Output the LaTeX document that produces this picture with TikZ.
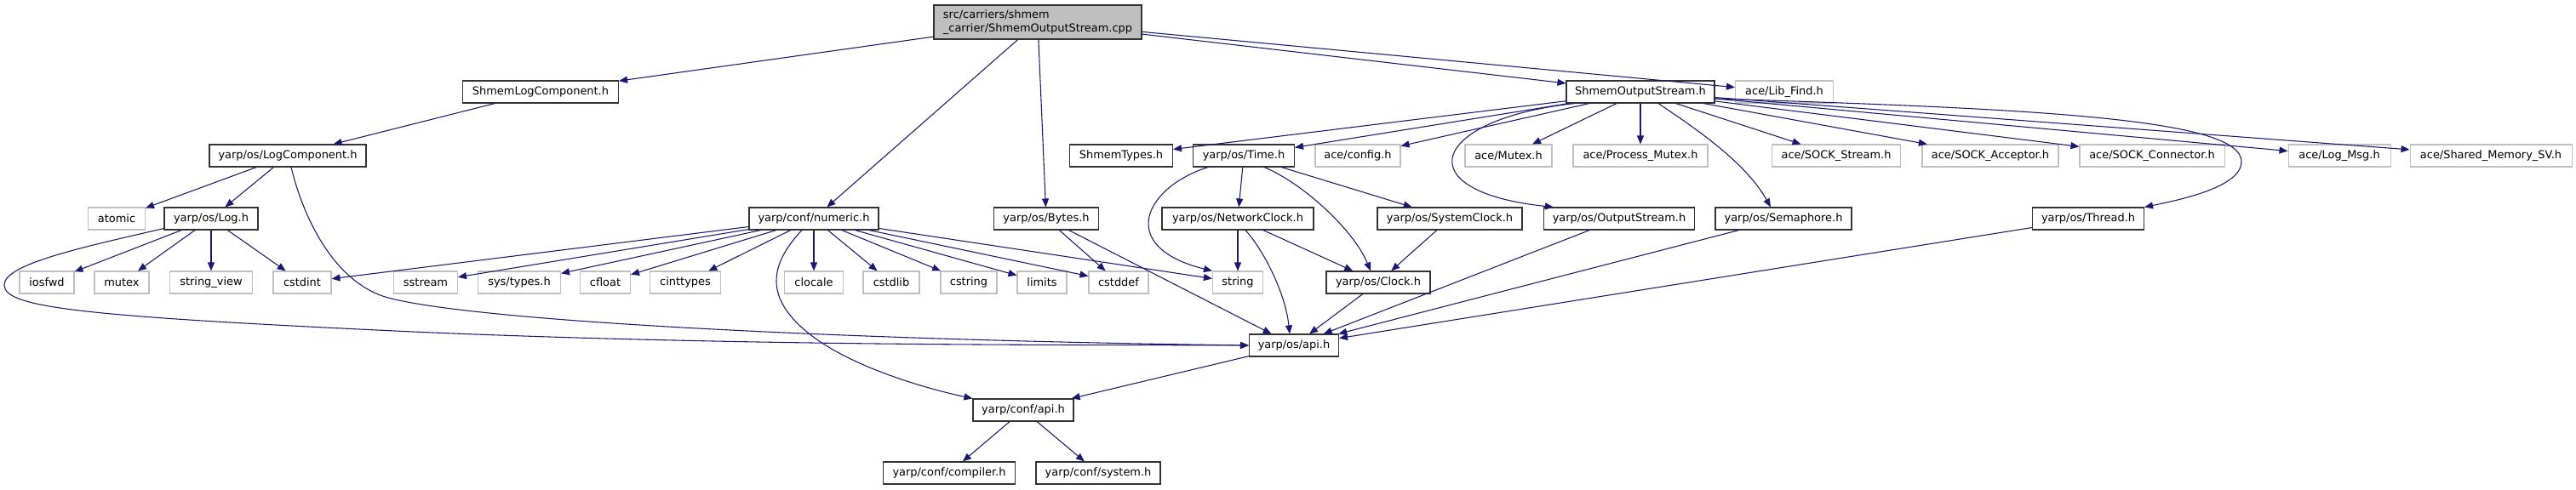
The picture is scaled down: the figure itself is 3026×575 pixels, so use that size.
\documentclass[tikz,border=0pt]{standalone}
\usepackage{fontspec}
\setmainfont{DejaVu Sans}
\usetikzlibrary{arrows.meta, calc}
\definecolor{edgeblue}{HTML}{191970}
\definecolor{sysgray}{HTML}{BFBFBF}
\tikzset{
  hdr/.style={draw=black!80, fill=white, line width=0.8pt, minimum height=19.5pt,
      inner sep=2pt, font=\fontsize{9.7}{11.5}\selectfont},
  syshdr/.style={hdr, draw=sysgray},
  srcfile/.style={hdr, fill=sysgray, align=left, minimum height=30pt},
  bw/.style={minimum width=#1*0.75pt},
  incl/.style={draw=edgeblue, line width=0.8pt, -{Triangle[length=7.5pt,width=6pt]}},
}
\begin{document}
\begin{tikzpicture}[x=0.75pt, y=-0.75pt]
  \useasboundingbox (0,0) rectangle (3026,575);
  % rows of headers
  \node[srcfile, bw=244] (root) at (1219,26) {src/carriers/shmem\\\_carrier/ShmemOutputStream.cpp};

  \node[hdr, bw=183] (shmemlog) at (635,108) {ShmemLogComponent.h};
  \node[hdr, bw=174] (shmemout) at (1927,108) {ShmemOutputStream.h};
  \node[syshdr, bw=115] (libfind) at (2096,108) {ace/Lib\_Find.h};

  \node[hdr, bw=184] (logcomp) at (338,183) {yarp/os/LogComponent.h};
  \node[hdr, bw=121] (shmemtypes) at (1317,183) {ShmemTypes.h};
  \node[hdr, bw=119] (time) at (1461,183) {yarp/os/Time.h};
  \node[syshdr, bw=100] (aceconfig) at (1595,183) {ace/config.h};
  \node[syshdr, bw=102] (acemutex) at (1772,183) {ace/Mutex.h};
  \node[syshdr, bw=158] (procmutex) at (1927,183) {ace/Process\_Mutex.h};
  \node[syshdr, bw=151] (sockstream) at (2157,183) {ace/SOCK\_Stream.h};
  \node[syshdr, bw=160] (sockacc) at (2338,183) {ace/SOCK\_Acceptor.h};
  \node[syshdr, bw=170] (sockconn) at (2528,183) {ace/SOCK\_Connector.h};
  \node[syshdr, bw=120] (logmsg) at (2748,183) {ace/Log\_Msg.h};
  \node[syshdr, bw=190] (sharedmem) at (2926,183) {ace/Shared\_Memory\_SV.h};

  \node[syshdr, bw=67] (atomic) at (137,257) {atomic};
  \node[hdr, bw=110] (log) at (248,257) {yarp/os/Log.h};
  \node[hdr, bw=152] (numeric) at (956,257) {yarp/conf/numeric.h};
  \node[hdr, bw=123] (bytes) at (1229,257) {yarp/os/Bytes.h};
  \node[hdr, bw=178] (netclock) at (1454,257) {yarp/os/NetworkClock.h};
  \node[hdr, bw=170] (sysclock) at (1703,257) {yarp/os/SystemClock.h};
  \node[hdr, bw=177] (outstream) at (1902,257) {yarp/os/OutputStream.h};
  \node[hdr, bw=160] (semaphore) at (2095,257) {yarp/os/Semaphore.h};
  \node[hdr, bw=131] (thread) at (2453,257) {yarp/os/Thread.h};

  \node[syshdr, bw=64] (iosfwd) at (55,332) {iosfwd};
  \node[syshdr, bw=64] (mutex) at (143,332) {mutex};
  \node[syshdr, bw=97] (stringview) at (248,332) {string\_view};
  \node[syshdr, bw=68] (cstdint) at (355,332) {cstdint};
  \node[syshdr, bw=75] (sstream) at (500,332) {sstream};
  \node[syshdr, bw=97] (systypes) at (610,332) {sys/types.h};
  \node[syshdr, bw=59] (cfloat) at (711,332) {cfloat};
  \node[syshdr, bw=83] (cinttypes) at (805,332) {cinttypes};
  \node[syshdr, bw=69] (clocale) at (956,332) {clocale};
  \node[syshdr, bw=66] (cstdlib) at (1047,332) {cstdlib};
  \node[syshdr, bw=66] (cstring) at (1138,332) {cstring};
  \node[syshdr, bw=58] (limits) at (1224,332) {limits};
  \node[syshdr, bw=70] (cstddef) at (1314,332) {cstddef};
  \node[syshdr, bw=59] (string) at (1454,332) {string};
  \node[hdr, bw=122] (clock) at (1619,332) {yarp/os/Clock.h};

  \node[hdr, bw=105] (osapi) at (1520,406) {yarp/os/api.h};
  \node[hdr, bw=118] (confapi) at (1202,482) {yarp/conf/api.h};
  \node[hdr, bw=155] (compiler) at (1115,556) {yarp/conf/compiler.h};
  \node[hdr, bw=146] (confsystem) at (1290,556) {yarp/conf/system.h};

  % includes
  \foreach \b in {shmemlog, numeric, bytes, shmemout, libfind}
    \draw[incl] (root) -- (\b);
  \draw[incl] (shmemlog) -- (logcomp);
  \foreach \b in {atomic, log} \draw[incl] (logcomp) -- (\b);
  \foreach \b in {iosfwd, mutex, stringview, cstdint} \draw[incl] (log) -- (\b);
  \foreach \b in {cstdint, sstream, systypes, cfloat, cinttypes, clocale, cstdlib,
      cstring, limits, cstddef, string}
    \draw[incl] (numeric) -- (\b);
  \foreach \b in {cstddef, osapi} \draw[incl] (bytes) -- (\b);
  \foreach \b in {shmemtypes, time, aceconfig, acemutex, procmutex, sockstream,
      sockacc, sockconn, logmsg, sharedmem}
    \draw[incl] (shmemout) -- (\b);
  \foreach \b in {netclock, sysclock} \draw[incl] (time) -- (\b);
  \foreach \b in {string, clock} \draw[incl] (netclock) -- (\b);
  \draw[incl] (sysclock) -- (clock);
  \foreach \a in {clock, outstream, semaphore, thread} \draw[incl] (\a) -- (osapi);
  \draw[incl] (osapi) -- (confapi);
  \foreach \b in {compiler, confsystem} \draw[incl] (confapi) -- (\b);

  % curved ones
  \draw[incl] ($(log.south west)+(0,-2)$) .. controls (100,290) and (5,310) .. (5,335)
    .. controls (5,362) and (100,372) .. (485,390) .. controls (900,408) and (1300,405) .. (osapi.west);
  \draw[incl] ($(logcomp.south)+(4,0)$) .. controls (360,270) and (400,335) .. (456,350)
    .. controls (560,378) and (1000,400) .. (osapi.west);
  \draw[incl] ($(numeric.south)+(-14,0)$) .. controls (905,310) and (895,350) .. (954,395)
    .. controls (1000,430) and (1080,455) .. (confapi.north west);
  \draw[incl] ($(time.south)+(-42,0)$) .. controls (1345,220) and (1310,290) .. (string.north west);
  \draw[incl] ($(time.south)+(24,0)$) .. controls (1530,215) and (1590,270) .. ($(clock.north)+(-9,0)$);
  \draw[incl] ($(netclock.south)+(9,0)$) .. controls (1485,295) and (1510,345) .. ($(osapi.north)+(-5,0)$);
  \draw[incl] ($(shmemout.south)+(-77,0)$) .. controls (1680,140) and (1650,225) .. ($(outstream.north west)+(12,0)$);
  \draw[incl] ($(shmemout.south)+(21,0)$) .. controls (1990,150) and (2050,190) .. ($(semaphore.north)+(-15,0)$);
  \draw[incl] ($(shmemout.east)+(0,8)$) .. controls (2400,128) and (2633,140) .. (2633,190)
    .. controls (2633,220) and (2560,235) .. (thread.north east);
\end{tikzpicture}
\end{document}
